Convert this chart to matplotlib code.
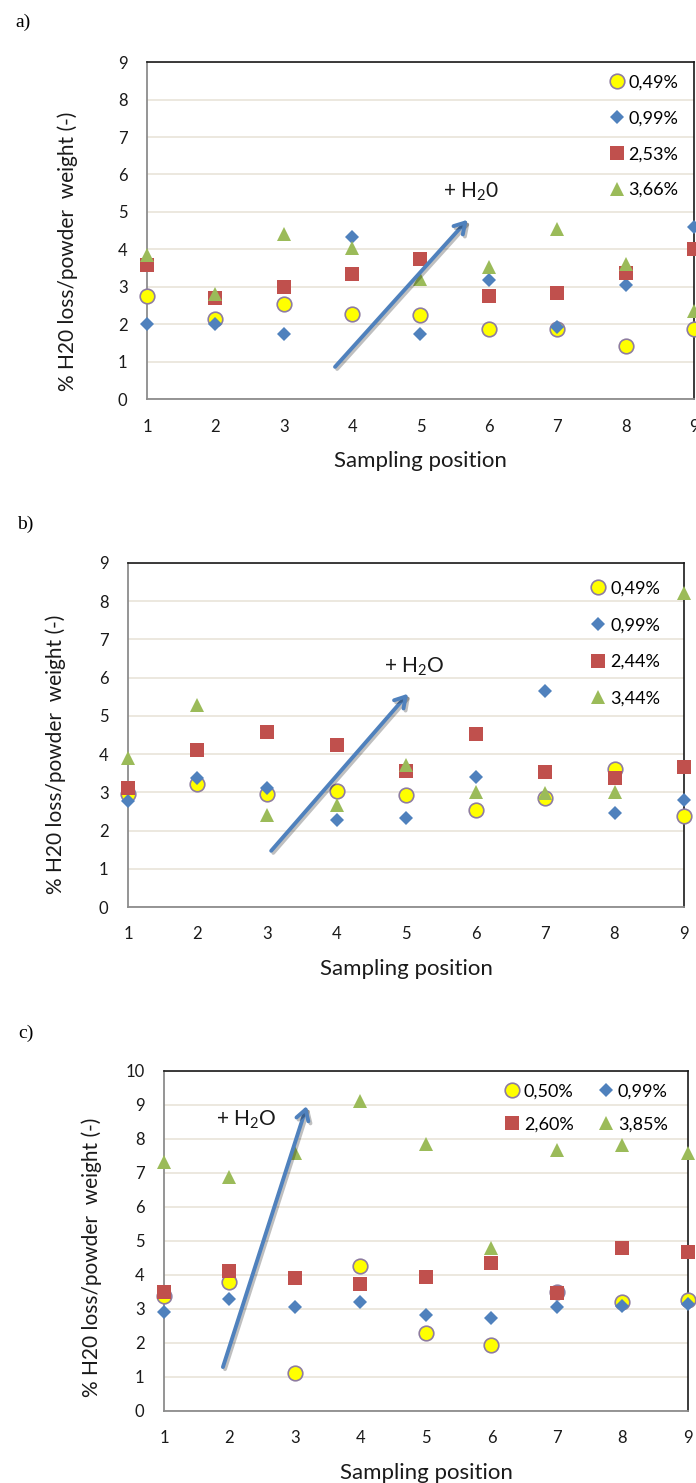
import matplotlib
matplotlib.use("Agg")
import matplotlib.pyplot as plt
import matplotlib.patheffects as pe

plt.rcParams["font.family"] = ["Lato", "DejaVu Sans"]
plt.rcParams["mathtext.fontset"] = "custom"
plt.rcParams["mathtext.rm"] = "Lato"

positions = [1, 2, 3, 4, 5, 6, 7, 8, 9]

# panel a
labels_a = ["0,49%", "0,99%", "2,53%", "3,66%"]
a_s1 = [2.75, 2.15, 2.53, 2.26, 2.24, 1.88, 1.87, 1.42, 1.88]
a_s2 = [2.00, 2.00, 1.75, 4.34, 1.75, 3.18, 1.93, 3.06, 4.59]
a_s3 = [3.58, 2.71, 3.00, 3.35, 3.75, 2.75, 2.84, 3.37, 4.00]
a_s4 = [3.86, 2.80, 4.40, 4.04, 3.20, 3.53, 4.53, 3.62, 2.35]

# panel b
labels_b = ["0,49%", "0,99%", "2,44%", "3,44%"]
b_s1 = [2.95, 3.23, 2.95, 3.04, 2.93, 2.53, 2.84, 3.60, 2.38]
b_s2 = [2.78, 3.37, 3.10, 2.27, 2.32, 3.39, 5.64, 2.45, 2.80]
b_s3 = [3.10, 4.11, 4.59, 4.24, 3.57, 4.53, 3.52, 3.37, 3.65]
b_s4 = [3.89, 5.29, 2.40, 2.67, 3.72, 3.02, 2.97, 3.02, 8.22]

# panel c
labels_c = ["0,50%", "0,99%", "2,60%", "3,85%"]
c_s1 = [3.38, 3.78, 1.12, 4.27, 2.29, 1.93, 3.50, 3.19, 3.26]
c_s2 = [2.90, 3.30, 3.05, 3.20, 2.82, 2.74, 3.05, 3.10, 3.14]
c_s3 = [3.50, 4.11, 3.90, 3.73, 3.93, 4.35, 3.48, 4.78, 4.68]
c_s4 = [7.33, 6.89, 7.58, 9.11, 7.86, 4.80, 7.68, 7.83, 7.58]

# arrows (start, end) and water label position
arrow_a = ((3.75, 0.86), (5.69, 4.79))
arrow_b = ((3.06, 1.47), (5.03, 5.58))
arrow_c = ((1.90, 1.29), (3.18, 8.97))
water_a = (5.74, 5.53, "+ H$_\\mathrm{2}$0")
water_b = (5.12, 6.28, "+ H$_\\mathrm{2}$O")
water_c = (2.26, 8.56, "+ H$_\\mathrm{2}$O")

YELLOW = "#FFFF00"
BLUE = "#4F81BD"
RED = "#C0504D"
GREEN = "#9BBB59"
GRID = "#EAE6DC"
TXT = "#1a1a1a"


def panel(ax, series, labels, ymax, arrow, water, legend_kw, order=(0, 1, 2, 3)):
    s1, s2, s3, s4 = series
    h1, = ax.plot(positions, s1, "o", ms=10.5, mfc=YELLOW, mec="#8E7CA0", mew=1.2,
                  label=labels[0], clip_on=False, zorder=3)
    h2, = ax.plot(positions, s2, "D", ms=7.5, color=BLUE, mew=0,
                  label=labels[1], clip_on=False, zorder=4)
    h3, = ax.plot(positions, s3, "s", ms=10, color=RED, mew=0,
                  label=labels[2], clip_on=False, zorder=5)
    h4, = ax.plot(positions, s4, "^", ms=10.5, color=GREEN, mew=0,
                  label=labels[3], clip_on=False, zorder=6)
    handles = [h1, h2, h3, h4]

    ax.set_xlim(1, 9)
    ax.set_ylim(0, ymax)
    ax.set_xticks(positions)
    ax.set_yticks(range(0, ymax + 1))
    ax.grid(axis="y", color=GRID, lw=1.3)
    ax.set_axisbelow(True)
    ax.tick_params(length=0, labelsize=12, colors=TXT, pad=14)
    for side in ["top", "right"]:
        ax.spines[side].set_color("#1a1a1a")
        ax.spines[side].set_linewidth(1.2)
    for side in ["left", "bottom"]:
        ax.spines[side].set_color("#8c8c8c")
        ax.spines[side].set_linewidth(1.3)

    ax.set_xlabel("Sampling position", fontsize=16, color=TXT, labelpad=12)
    ax.set_ylabel("% H20 loss/powder  weight (-)", fontsize=15, color=TXT)

    (x0, y0), (x1, y1) = arrow
    ax.annotate("", xy=(x1, y1), xytext=(x0, y0),
                arrowprops=dict(arrowstyle="->,head_length=0.75,head_width=0.45",
                                color=BLUE, lw=2.8, shrinkA=0, shrinkB=0,
                                path_effects=[pe.SimpleLineShadow(offset=(1.5, -1.5), alpha=0.25),
                                              pe.Normal()]),
                zorder=7)
    ax.text(water[0], water[1], water[2], fontsize=15, color=TXT,
            ha="center", va="center", zorder=8)

    ax.legend([handles[i] for i in order], [labels[i] for i in order],
              frameon=False, fontsize=13, handletextpad=0.15,
              handlelength=1.0, borderaxespad=0, **legend_kw)


fig = plt.figure(figsize=(6.96, 14.83), dpi=100)
ax_a = fig.add_axes([0.2112, 0.7309, 0.7859, 0.2272])
ax_b = fig.add_axes([0.1839, 0.3884, 0.7989, 0.2320])
ax_c = fig.add_axes([0.2356, 0.0486, 0.7529, 0.2293])

panel(ax_a, (a_s1, a_s2, a_s3, a_s4), labels_a, 9, arrow_a, water_a,
      dict(loc="upper right", bbox_to_anchor=(0.985, 0.985), labelspacing=1.1))
panel(ax_b, (b_s1, b_s2, b_s3, b_s4), labels_b, 9, arrow_b, water_b,
      dict(loc="upper right", bbox_to_anchor=(0.97, 0.97), labelspacing=1.15))
panel(ax_c, (c_s1, c_s2, c_s3, c_s4), labels_c, 10, arrow_c, water_c,
      dict(loc="upper right", bbox_to_anchor=(0.975, 0.985), ncol=2,
           labelspacing=0.95, columnspacing=1.3), order=(0, 2, 1, 3))

ax_a.yaxis.set_label_coords(-0.126, 0.44)
ax_b.yaxis.set_label_coords(-0.111, 0.445)
ax_c.yaxis.set_label_coords(-0.118, 0.453)

for letter, (x, y) in zip(["a)", "b)", "c)"], [(15, 22), (17, 524), (18, 1033)]):
    fig.text(x / 696, 1 - y / 1483, letter, fontsize=14, ha="left", va="center",
             family=["Liberation Serif", "DejaVu Serif"], color="black")

fig.savefig("out.png", dpi=100)
